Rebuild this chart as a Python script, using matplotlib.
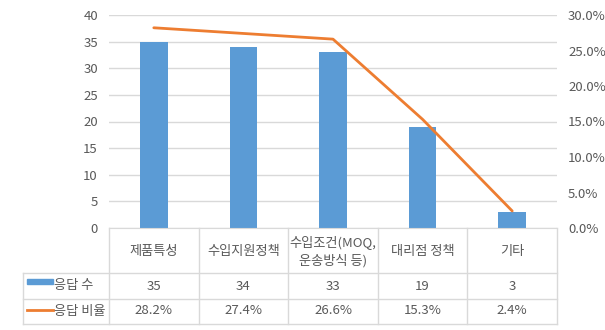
import matplotlib.pyplot as plt
from matplotlib.patches import Rectangle
from matplotlib.ticker import MultipleLocator, FuncFormatter

plt.rcParams['font.family'] = ['Noto Sans CJK KR', 'DejaVu Sans']

categories = ['제품특성', '수입지원정책', '수입조건(MOQ,\n운송방식 등)', '대리점 정책', '기타']
counts = [35, 34, 33, 19, 3]
ratios = [28.2, 27.4, 26.6, 15.3, 2.4]
series_names = ['응답 수', '응답 비율']

bar_color = '#5B9BD5'
line_color = '#ED7D31'
grid_color = '#D9D9D9'
text_color = '#595959'
fs = 9.5

W, H = 605, 330
fig = plt.figure(figsize=(W / 100, H / 100), dpi=100)
# plot area in pixels: left 109, top 15, right 557, bottom 228
ax = fig.add_axes([109 / W, (H - 228) / H, 448 / W, 213 / H])

x = list(range(len(categories)))
ax.bar(x, counts, width=0.31, color=bar_color, zorder=2)
ax.set_xlim(-0.5, len(categories) - 0.5)
ax.set_ylim(0, 40)
ax.yaxis.set_major_locator(MultipleLocator(5))
ax.grid(axis='y', color=grid_color, linewidth=1)
ax.set_axisbelow(True)
ax.set_xticks([])
ax.tick_params(axis='y', length=0, pad=8, labelsize=fs, labelcolor=text_color)
for s in ['top', 'left', 'right']:
    ax.spines[s].set_visible(False)
ax.spines['bottom'].set_color(grid_color)

ax2 = ax.twinx()
ax2.plot(x, ratios, color=line_color, linewidth=2, solid_capstyle='round')
ax2.set_ylim(0, 30)
ax2.yaxis.set_major_locator(MultipleLocator(5))
ax2.yaxis.set_major_formatter(FuncFormatter(lambda v, p: f'{v:.1f}%'))
ax2.tick_params(axis='y', length=0, pad=8, labelsize=fs, labelcolor=text_color)
for s in ax2.spines.values():
    s.set_visible(False)


# data table under the plot
def fx(px):
    return (px - 109) / 448


def fy(py):
    return (228 - py) / 213


xt = ax.get_xaxis_transform()
ta = ax.transAxes
line_kw = dict(color=grid_color, linewidth=1, clip_on=False)

for i in range(len(categories) + 1):
    ax.plot([i - 0.5, i - 0.5], [fy(228), fy(324)], transform=xt, **line_kw)
ax.plot([fx(23), fx(23)], [fy(273), fy(324)], transform=ta, **line_kw)
for py in (273, 299, 324):
    ax.plot([fx(23), 1], [fy(py), fy(py)], transform=ta, **line_kw)

for i, cat in enumerate(categories):
    ax.text(i, fy(251), cat, transform=xt, ha='center', va='center',
            fontsize=fs, color=text_color, linespacing=1.45)
    ax.text(i, fy(286), f'{counts[i]}', transform=xt, ha='center', va='center',
            fontsize=fs, color=text_color)
    ax.text(i, fy(311), f'{ratios[i]:.1f}%', transform=xt, ha='center', va='center',
            fontsize=fs, color=text_color)

# legend keys inside the table
ax.add_patch(Rectangle((fx(27), fy(284)), fx(53) - fx(27), fy(279) - fy(284),
                       transform=ta, color=bar_color, clip_on=False))
ax.plot([fx(27), fx(53)], [fy(310), fy(310)], transform=ta, color=line_color,
        linewidth=2, clip_on=False)
ax.text(fx(54), fy(286), series_names[0], transform=ta, ha='left', va='center',
        fontsize=fs, color=text_color)
ax.text(fx(54), fy(311), series_names[1], transform=ta, ha='left', va='center',
        fontsize=fs, color=text_color)

fig.savefig('out.png', dpi=100)
